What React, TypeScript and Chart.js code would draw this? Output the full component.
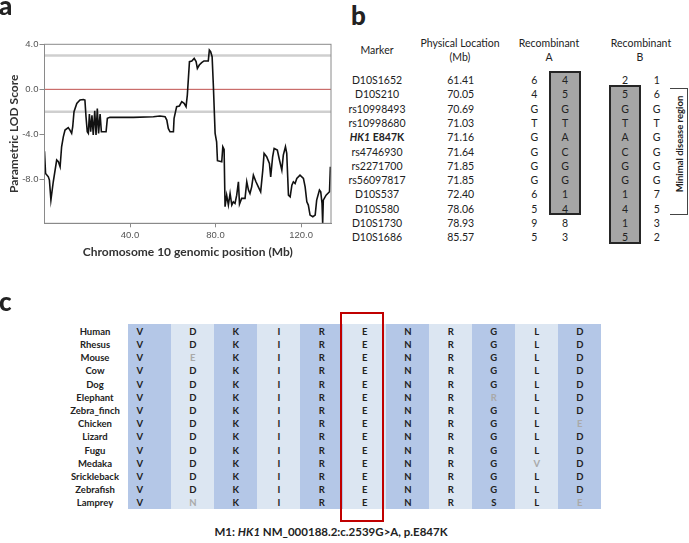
import React, { useEffect, useRef } from "react";
import { Chart, registerables } from "chart.js";

Chart.register(...registerables);

// ---------- Panel a: parametric LOD scores along chromosome 10 ----------
const positionsMb = [
  0, 0.5, 1.8, 2.3, 3.0, 4.1, 5.7, 6.5, 7.3, 7.7, 8.0, 8.8, 9.6, 11.1, 11.9, 12.7, 13.2, 13.8,
  15.1, 16.6, 18.2, 18.9, 19.4, 20.0, 20.5, 21.0, 21.6, 22.2, 22.8, 23.5, 24.1, 24.7, 25.3,
  26.0, 26.6, 27.2, 28.8, 29.4, 30.6, 41.6, 50.9, 54.0, 56.4, 57.2, 57.9, 58.7, 60.3, 60.6,
  61.8, 63.1, 64.2, 65.3, 66.2, 66.8, 67.8, 68.9, 70.0, 70.9, 71.5, 72.4, 73.5, 74.6, 76.6,
  77.1, 77.7, 78.4, 79.0, 79.8, 80.5, 80.9, 82.9, 83.4, 84.0, 84.45, 85.2, 86.0, 86.8, 87.6,
  88.3, 89.1, 89.9, 90.7, 91.2, 92.2, 93.8, 94.6, 95.4, 96.1, 96.9, 97.7, 98.9, 100.0, 101.1,
  102.1, 102.7, 103.9, 105.2, 105.8, 106.7, 107.4, 108.9, 109.9, 111.0, 111.7, 112.7, 113.3,
  114.1, 114.9, 115.7, 116.4, 117.2, 118.0, 119.5, 121.1, 121.9, 122.7, 123.4, 124.2, 125.5,
  126.6, 127.3, 128.6, 129.2, 129.8, 130.1, 130.4, 131.7, 133.3, 133.7,
];
const lodScores = [
  -5.5, -7.47, -7.77, -8.06, -9.84, -8.21, -6.28, -6.43, -6.88, -6.88, -5.1, -4.22, -3.62,
  -3.4, -3.62, -3.91, -3.32, -1.99, -1.25, -0.95, -0.9, -0.95, -2.4, -3.77, -3.91, -2.2,
  -3.77, -2.3, -4.06, -1.9, -4.06, -1.7, -3.91, -2.2, -3.77, -3.77, -3.77, -2.58, -2.49,
  -2.49, -2.43, -2.37, -2.43, -2.73, -3.47, -3.77, -3.77, -2.58, -1.54, -1.48, -1.1, -1.25,
  -1.54, -0.51, 2.46, 2.52, 2.75, 2.46, 1.86, 2.16, 2.37, 2.52, 2.52, 3.49, 3.34, 2.9, 0.23,
  -3.91, -4.66, -6.34, -6.43, -5.1, -5.34, -10.43, -9.4, -10.28, -9.25, -10.28, -9.99,
  -10.14, -9.4, -8.21, -10.2, -9.69, -9.69, -8.21, -8.95, -9.25, -8.66, -7.62, -8.21, -8.66,
  -9.1, -7.17, -5.69, -5.99, -6.58, -7.77, -5.99, -5.25, -5.4, -6.28, -7.17, -5.84, -5.1,
  -5.69, -9.4, -9.55, -8.51, -8.21, -8.36, -7.91, -7.62, -7.91, -8.66, -9.99, -10.28, -11.17,
  -11.32, -11.17, -9.84, -8.95, -9.1, -10.14, -11.91, -9.84, -9.4, -9.1, -6.88,
];
const xTickValues = [40, 80, 120];
const yTickValues = [-8, -4, 0, 4];
const xRangeMb = [0, 134];
const yRangeLod = [-11.9, 4];
const significanceLod = 3.0;
const baselineLod = 0.0;
const exclusionLod = -2.0;
const xAxisTitle = "Chromosome 10 genomic position (Mb)";
const yAxisTitle = "Parametric LOD Score";

// ---------- Panel b: haplotypes of the recombinants ----------
const markers = [
  "D10S1652", "D10S210", "rs10998493", "rs10998680", "HK1 E847K", "rs4746930",
  "rs2271700", "rs56097817", "D10S537", "D10S580", "D10S1730", "D10S1686",
];
const physicalLocationsMb = [
  "61.41", "70.05", "70.69", "71.03", "71.16", "71.64", "71.85", "71.85", "72.40", "78.06", "78.93", "85.57",
];
const recombinantA1 = ["6", "4", "G", "T", "G", "G", "G", "G", "6", "5", "9", "5"];
const recombinantA2 = ["4", "5", "G", "T", "A", "C", "G", "G", "1", "4", "8", "3"];
const recombinantB1 = ["2", "5", "G", "T", "A", "C", "G", "G", "1", "4", "1", "5"];
const recombinantB2 = ["1", "6", "G", "T", "G", "G", "G", "G", "7", "5", "3", "2"];
const haplotypeARows = [0, 9];
const haplotypeBRows = [1, 11];
const minimalRegionRows = [1, 9];

// ---------- Panel c: conservation ----------
const species = [
  "Human", "Rhesus", "Mouse", "Cow", "Dog", "Elephant", "Zebra_finch", "Chicken",
  "Lizard", "Fugu", "Medaka", "Srickleback", "Zebrafish", "Lamprey",
];
const sequences = [
  "VDKIRENRGLD", "VDKIRENRGLD", "VEKIRENRGLD", "VDKIRENRGLD", "VDKIRENRGLD",
  "VDKIRENRRLD", "VDKIRENRGLD", "VDKIRENRGLE", "VDKIRENRGLD", "VDKIRENRGLD",
  "VDKIRENRGVD", "VDKIRENRGLD", "VDKIRENRGLD", "VNKIRENRSLE",
];
const fadedResidues: [string, number][] = [
  ["Mouse", 1], ["Elephant", 8], ["Chicken", 10], ["Medaka", 9], ["Lamprey", 1], ["Lamprey", 10],
];
const mutatedColumn = 5;

const FONT = "Lato, 'Open Sans', sans-serif";

function T({ x, y, children, style }: any) {
  return (
    <div
      style={{
        position: "absolute",
        left: x,
        top: y,
        transform: "translate(-50%,-50%)",
        whiteSpace: "nowrap",
        lineHeight: 1,
        ...style,
      }}
    >
      {children}
    </div>
  );
}

function LodChart() {
  const ref = useRef<HTMLCanvasElement>(null);
  useEffect(() => {
    if (!ref.current) return;
    const lodPoints = positionsMb.map((x, i) => ({ x, y: lodScores[i] }));
    const hline = (v: number) => [
      { x: xRangeMb[0], y: v },
      { x: xRangeMb[1], y: v },
    ];
    const framePlugin = {
      id: "frame",
      afterDatasetsDraw(chart: any) {
        const { ctx, chartArea: a } = chart;
        ctx.save();
        ctx.strokeStyle = "#8a8a8a";
        ctx.lineWidth = 1;
        ctx.strokeRect(a.left, a.top, a.right - a.left, a.bottom - a.top);
        ctx.restore();
      },
    };
    const tickFont = { family: "'Liberation Sans', Arial, sans-serif", size: 9.5 };
    const titleFont = { family: FONT, size: 12, weight: "bold" as const };
    const chart = new Chart(ref.current, {
      type: "line",
      data: {
        datasets: [
          { data: lodPoints, borderColor: "#111", borderWidth: 1.6, pointRadius: 0, tension: 0, order: 0 },
          { data: hline(baselineLod), borderColor: "#c0504d", borderWidth: 1, pointRadius: 0, order: 1 },
          { data: hline(significanceLod), borderColor: "#cfcfcf", borderWidth: 2.5, pointRadius: 0, order: 2 },
          { data: hline(exclusionLod), borderColor: "#cfcfcf", borderWidth: 2.5, pointRadius: 0, order: 3 },
        ],
      },
      options: {
        responsive: false,
        animation: false,
        events: [],
        layout: { padding: { top: 44.3, right: 9, left: 0, bottom: 0 } },
        plugins: { legend: { display: false }, tooltip: { enabled: false }, title: { display: false } },
        scales: {
          x: {
            type: "linear",
            min: xRangeMb[0],
            max: xRangeMb[1],
            afterBuildTicks: (s: any) => {
              s.ticks = xTickValues.map((v) => ({ value: v }));
            },
            afterFit: (s: any) => {
              s.height = 46.7;
            },
            ticks: {
              font: tickFont,
              color: "#555",
              padding: 2,
              maxRotation: 0,
              callback: (v: any) => Number(v).toFixed(1),
            },
            grid: { display: true, drawOnChartArea: false, drawTicks: true, tickLength: 4, color: "#8a8a8a" },
            border: { display: true, color: "#8a8a8a" },
            title: { display: true, text: xAxisTitle, font: titleFont, color: "#333", padding: { top: 0, bottom: 10.5 } },
          },
          y: {
            type: "linear",
            min: yRangeLod[0],
            max: yRangeLod[1],
            afterBuildTicks: (s: any) => {
              s.ticks = yTickValues.map((v) => ({ value: v }));
            },
            afterFit: (s: any) => {
              s.width = 44.5;
            },
            ticks: {
              font: tickFont,
              color: "#555",
              padding: 1,
              callback: (v: any) => Number(v).toFixed(1),
            },
            grid: { display: true, drawOnChartArea: false, drawTicks: true, tickLength: 5, color: "#8a8a8a" },
            border: { display: true, color: "#8a8a8a" },
            title: { display: true, text: yAxisTitle, font: titleFont, color: "#333", padding: { top: 7, bottom: 0 } },
          },
        },
      },
      plugins: [framePlugin],
    } as any);
    return () => chart.destroy();
  }, []);
  return (
    <canvas
      ref={ref}
      width={340}
      height={270}
      style={{ position: "absolute", left: 0, top: 0, width: 340, height: 270 }}
    />
  );
}

function PanelB() {
  const rowY = (i: number) => 80 + i * 14.3;
  const txt = { fontSize: 10.5, color: "#222" };
  const box = (rows: number[], left: number, width: number) => (
    <div
      style={{
        position: "absolute",
        left,
        top: rowY(rows[0]) - 9,
        width,
        height: rowY(rows[1]) - rowY(rows[0]) + 15.5,
        background: "#a6a6a6",
        border: "2px solid #262626",
        boxSizing: "border-box",
      }}
    />
  );
  const top = rowY(minimalRegionRows[0]) - 6;
  const bottom = rowY(minimalRegionRows[1]) + 6;
  return (
    <>
      {box(haplotypeARows, 549.3, 31.5)}
      {box(haplotypeBRows, 609.3, 31.7)}
      <T x={377} y={50} style={txt}>Marker</T>
      <T x={460} y={43} style={txt}>Physical Location</T>
      <T x={460} y={57} style={txt}>(Mb)</T>
      <T x={549} y={43} style={txt}>Recombinant</T>
      <T x={549} y={57} style={txt}>A</T>
      <T x={641} y={43} style={txt}>Recombinant</T>
      <T x={640} y={57} style={txt}>B</T>
      {markers.map((m, i) => {
        const isVariant = m.startsWith("HK1");
        return (
          <React.Fragment key={m}>
            <T x={377} y={rowY(i)} style={txt}>
              {isVariant ? (
                <span style={{ fontWeight: "bold" }}>
                  <i>HK1</i> {m.split(" ")[1]}
                </span>
              ) : (
                m
              )}
            </T>
            <T x={460.7} y={rowY(i)} style={txt}>{physicalLocationsMb[i]}</T>
            <T x={534.3} y={rowY(i)} style={txt}>{recombinantA1[i]}</T>
            <T x={565} y={rowY(i)} style={txt}>{recombinantA2[i]}</T>
            <T x={625} y={rowY(i)} style={txt}>{recombinantB1[i]}</T>
            <T x={656.7} y={rowY(i)} style={txt}>{recombinantB2[i]}</T>
          </React.Fragment>
        );
      })}
      <div
        style={{
          position: "absolute",
          left: 670,
          top,
          width: 18,
          height: bottom - top,
          borderTop: "1px solid #444",
          borderBottom: "1px solid #444",
          borderRight: "1px solid #444",
          boxSizing: "border-box",
        }}
      />
      <div
        style={{
          position: "absolute",
          left: 680,
          top: 144,
          transform: "translate(-50%,-50%) rotate(-90deg)",
          whiteSpace: "nowrap",
          lineHeight: 1,
          fontSize: 9.5,
          fontWeight: "bold",
          color: "#222",
        }}
      >
        Minimal disease region
      </div>
    </>
  );
}

function PanelC() {
  const colLeft = 128.3;
  const colW = 43;
  const rowY = (i: number) => 331.7 + i * 13.2;
  const isFaded = (sp: string, c: number) => fadedResidues.some(([s, k]) => s === sp && k === c);
  const nCols = sequences[0].length;
  return (
    <>
      {Array.from({ length: nCols }, (_, c) => (
        <div
          key={"band" + c}
          style={{
            position: "absolute",
            left: colLeft + c * colW,
            top: 324,
            width: colW,
            height: 185.3,
            background: c % 2 === 0 ? "#b4c7e7" : "#dce6f2",
          }}
        />
      ))}
      {species.map((sp, r) => (
        <React.Fragment key={sp}>
          <T x={95} y={rowY(r)} style={{ fontSize: 9.5, fontWeight: "bold", color: "#222" }}>{sp}</T>
          {sequences[r].split("").map((aa, c) => (
            <T
              key={c}
              x={colLeft + c * colW + colW / 2 - (c === 0 ? 10 : 0)}
              y={rowY(r)}
              style={{ fontSize: 9.5, fontWeight: "bold", color: isFaded(sp, c) ? "#a9a9a9" : "#222" }}
            >
              {aa}
            </T>
          ))}
        </React.Fragment>
      ))}
      <div
        style={{
          position: "absolute",
          left: colLeft + mutatedColumn * colW - 3.3,
          top: 311.7,
          width: 44.3,
          height: 210.3,
          border: "2px solid #c00000",
          boxSizing: "border-box",
        }}
      />
      <T x={331} y={532} style={{ fontSize: 11.5, fontWeight: "bold", color: "#222" }}>
        M1: <i>HK1</i> NM_000188.2:c.2539G&gt;A, p.E847K
      </T>
    </>
  );
}

export default function App() {
  const label = { position: "absolute" as const, fontSize: 26, fontWeight: 900, lineHeight: 1, color: "#222" };
  return (
    <div
      style={{
        position: "absolute",
        left: 0,
        top: 0,
        width: 689,
        height: 543,
        background: "#fff",
        fontFamily: FONT,
        overflow: "hidden",
      }}
    >
      <LodChart />
      <div style={{ ...label, left: -1, top: -8 }}>a</div>
      <div style={{ ...label, left: 351, top: 2 }}>b</div>
      <div style={{ ...label, left: -1, top: 287.5 }}>c</div>
      <PanelB />
      <PanelC />
    </div>
  );
}
